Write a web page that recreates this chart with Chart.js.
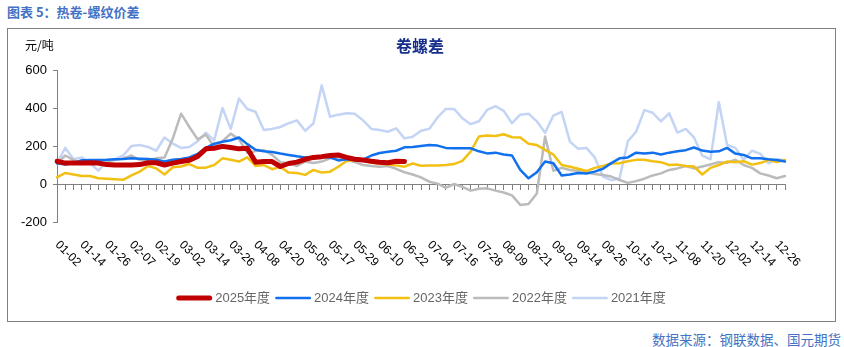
<!DOCTYPE html>
<html>
<head>
<meta charset="utf-8">
<script src="https://cdn.jsdelivr.net/npm/chart.js@4.4.1/dist/chart.umd.min.js"></script>
<style>
  body { margin: 0; background: #fff; width: 844px; height: 347px; position: relative; overflow: hidden; }
  #title { position: absolute; left: 7px; top: 3px; font: bold 13px "Noto Sans CJK SC", sans-serif; color: #4472C4; line-height: 17px; }
  #frame { position: absolute; left: 7px; top: 28px; width: 829px; height: 294px; border: 1px solid #808080; box-sizing: border-box; }
  #source { position: absolute; right: 3px; top: 330px; font: 13.5px "Noto Sans CJK SC", sans-serif; color: #4472C4; line-height: 18px; }
  #chart { position: absolute; left: 0; top: 0; }
</style>
</head>
<body>
<div id="title">图表 5：热卷-螺纹价差</div>
<div id="frame"></div>
<div id="source">数据来源：钢联数据、国元期货</div>
<canvas id="chart" width="844" height="347"></canvas>
<script>
// x axis: one step = 4 days, a date label every 3 steps
const tickLabels = ["01-02", "01-14", "01-26", "02-07", "02-19", "03-02", "03-14", "03-26", "04-08", "04-20",
  "05-05", "05-17", "05-29", "06-10", "06-22", "07-04", "07-16", "07-28", "08-09", "08-21",
  "09-02", "09-14", "09-26", "10-15", "10-27", "11-08", "11-20", "12-02", "12-14", "12-26"];
const stepsPerLabel = 3;
const stepCount = 89;

const seriesNames = ["2025年度", "2024年度", "2023年度", "2022年度", "2021年度"];

const y2025 = [120, 110, 110, 110, 112, 110, 102, 100, 100, 100,
  102, 112, 112, 100, 110, 118, 125, 145, 185, 188,
  198, 192, 185, 188, 115, 118, 118, 92, 108, 115,
  130, 140, 144, 150, 153, 140, 130, 126, 120, 115,
  112, 120, 118];

const y2024 = [109, 102, 110, 125, 126, 126, 127, 130, 132, 135,
  133, 131, 128, 118, 128, 132, 140, 158, 190, 212,
  222, 230, 245, 210, 180, 172, 168, 160, 153, 146,
  140, 140, 143, 140, 124, 130, 126, 128, 150, 163,
  170, 175, 193, 195, 200, 205, 202, 190, 188, 188,
  188, 172, 161, 165, 155, 150, 74, 30, 62, 118,
  109, 45, 50, 58, 55, 65, 80, 110, 135, 140,
  165, 160, 165, 155, 165, 172, 178, 192, 176, 170,
  172, 190, 160, 153, 135, 135, 130, 126, 118];

const y2023 = [35, 58, 50, 42, 42, 30, 28, 25, 22, 45,
  65, 95, 82, 50, 88, 92, 105, 85, 86, 100,
  135, 128, 118, 140, 95, 100, 78, 90, 60, 58,
  48, 74, 60, 65, 91, 121, 125, 128, 112, 106,
  102, 98, 91, 108, 96, 98, 98, 100, 105, 122,
  170, 250, 255, 253, 262, 246, 245, 212, 205, 180,
  155, 100, 91, 80, 68, 85, 95, 108, 109, 120,
  127, 128, 120, 115, 100, 102, 95, 92, 50, 85,
  100, 118, 115, 120, 102, 110, 126, 115, 126];

const y2022 = [109, 150, 126, 110, 115, 112, 120, 126, 135, 150,
  126, 126, 135, 140, 240, 370, 300, 235, 260, 195,
  225, 265, 235, 165, 173, 178, 153, 115, 109, 95,
  118, 110, 118, 135, 140, 126, 115, 100, 95, 91,
  95, 80, 62, 50, 35, 12, 2, -20, 0, -15,
  -35, -25, -23, -35, -45, -60, -110, -105, -50, 250,
  70, 85, 74, 68, 60, 53, 47, 39, 21, 6,
  15, 28, 45, 56, 74, 82, 95, 82, 92, 103,
  115, 112, 128, 100, 85, 56, 45, 30, 42];

const y2021 = [109, 190, 130, 140, 110, 70, 120, 130, 150, 200,
  205, 195, 175, 245, 212, 190, 195, 225, 270, 230,
  400, 290, 450, 395, 380, 284, 290, 300, 320, 335,
  280, 319, 519, 354, 365, 372, 370, 335, 290, 284,
  275, 293, 240, 249, 280, 290, 350, 395, 395, 346,
  315, 330, 390, 410, 385, 320, 365, 370, 330, 270,
  360, 380, 223, 185, 190, 140, 39, 20, 30, 225,
  275, 389, 375, 330, 372, 270, 290, 245, 150, 130,
  430, 205, 190, 128, 175, 160, 109, 130, 125];

const yTicks = [-200, 0, 200, 400, 600];

const categories = [];
for (let i = 0; i < stepCount; i++) {
  categories.push(i % stepsPerLabel === 0 ? tickLabels[i / stepsPerLabel] : "");
}

const styles = [
  { color: "#C00000", width: 5 },
  { color: "#1170EE", width: 2.5 },
  { color: "#F2C012", width: 2.5 },
  { color: "#BBBBBB", width: 2.5 },
  { color: "#C3D4F5", width: 2.5 }
];
const allSeries = [y2025, y2024, y2023, y2022, y2021];

const datasets = allSeries.map((vals, i) => ({
  label: seriesNames[i],
  data: vals,
  borderColor: styles[i].color,
  backgroundColor: styles[i].color,
  borderWidth: styles[i].width,
  pointRadius: 0,
  tension: 0,
  borderJoinStyle: "round",
  borderCapStyle: "round",
  fill: false
}));

// title, unit, rotated date labels and legend
const decor = {
  id: "decor",
  afterDraw(chart) {
    const ctx = chart.ctx;
    const xs = chart.scales.x;
    const area = chart.chartArea;
    ctx.save();

    ctx.fillStyle = "#000";
    ctx.font = '12px "Noto Sans CJK SC", sans-serif';
    ctx.textAlign = "left";
    ctx.textBaseline = "middle";
    ctx.fillText("元/吨", 25, 45);

    ctx.fillStyle = "#16308C";
    ctx.font = 'bold 16px "Noto Sans CJK SC", serif';
    ctx.textAlign = "center";
    ctx.fillText("卷螺差", 420, 46);

    ctx.fillStyle = "#000";
    ctx.font = '12px "Liberation Sans", Arial, sans-serif';
    ctx.textAlign = "left";
    tickLabels.forEach((lab, k) => {
      const px = xs.getPixelForValue(k * stepsPerLabel);
      ctx.save();
      ctx.translate(px, area.bottom + 21);
      ctx.rotate(Math.PI / 4);
      ctx.fillText(lab, 0, 0);
      ctx.restore();
    });

    // legend
    ctx.font = '13px "Liberation Sans", "Noto Sans CJK SC", sans-serif';
    const lineLen = 36, gapA = 3, gapB = 5;
    const widths = chart.data.datasets.map(d => ctx.measureText(d.label).width);
    let total = widths.reduce((a, b) => a + b, 0) + chart.data.datasets.length * (lineLen + gapA) + (chart.data.datasets.length - 1) * gapB;
    let x = (area.left + area.right) / 2 - total / 2;
    const ly = 298;
    chart.data.datasets.forEach((d, i) => {
      ctx.strokeStyle = d.borderColor;
      ctx.lineWidth = d.borderWidth;
      ctx.lineCap = "round";
      ctx.beginPath();
      ctx.moveTo(x + d.borderWidth / 2, ly);
      ctx.lineTo(x + lineLen - d.borderWidth / 2, ly);
      ctx.stroke();
      ctx.fillStyle = "#666";
      ctx.textBaseline = "middle";
      ctx.fillText(d.label, x + lineLen + gapA, ly);
      x += lineLen + gapA + widths[i] + gapB;
    });
    ctx.restore();
  }
};

new Chart(document.getElementById("chart"), {
  type: "line",
  data: { labels: categories, datasets: datasets },
  options: {
    responsive: false,
    animation: false,
    devicePixelRatio: 1,
    layout: { padding: { left: 7, top: 70, right: 59, bottom: 125 } },
    plugins: { legend: { display: false }, tooltip: { enabled: false } },
    scales: {
      x: {
        type: "category",
        position: { y: 0 },
        offset: false,
        grid: { drawOnChartArea: false, drawTicks: true, tickLength: 5, color: "#808080" },
        border: { color: "#808080", width: 1 },
        ticks: { display: false, autoSkip: false }
      },
      y: {
        min: -200,
        max: 600,
        afterFit(scale) { scale.width = 50; },
        afterBuildTicks(scale) { scale.ticks = yTicks.map(v => ({ value: v })); },
        grid: { drawOnChartArea: false, drawTicks: true, tickLength: 4, color: "#808080" },
        border: { color: "#808080", width: 1 },
        ticks: { color: "#000", padding: 6, font: { family: '"Liberation Sans", Arial, sans-serif', size: 13 } }
      }
    }
  },
  plugins: [decor]
});
</script>
</body>
</html>
